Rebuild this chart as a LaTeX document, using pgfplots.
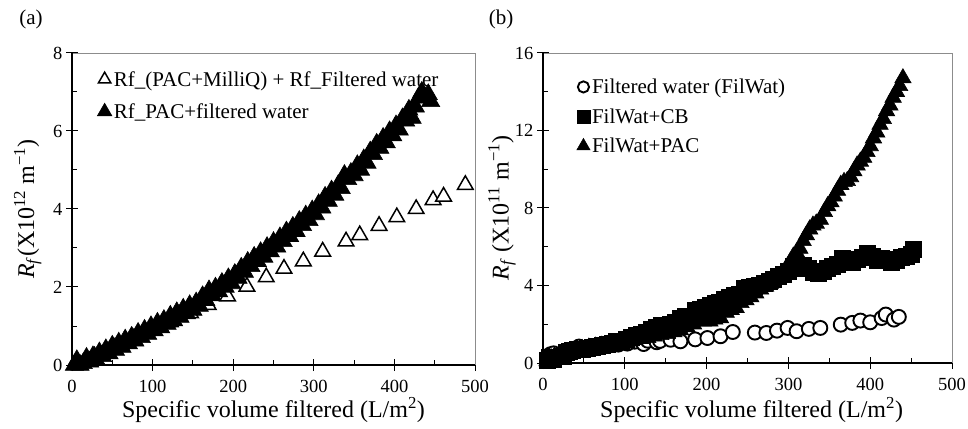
\documentclass[border=0pt]{standalone}
\usepackage{fontspec}
\setmainfont{Liberation Serif}
\usepackage{pgfplots}
\pgfplotsset{compat=1.18}
\pgfplotsset{
  panel/.style={
    scale only axis,
    anchor=south west,
    xmin=0,xmax=500,
    xtick={0,100,...,500},
    minor x tick num=1,
    minor y tick num=1,
    xtick pos=bottom, ytick pos=left,
    tick align=inside,
    major tick length=6pt, minor tick length=5pt,
    tick style={black, line width=1pt},
    extra x ticks={0,100,...,500},
    extra x tick labels={},
    extra y tick labels={},
    extra tick style={tick align=outside, major tick length=6pt, minor tick num=0},
    axis line style={black!45, line width=0.8pt},
    ticklabel style={font=\fontsize{18.5}{21}\selectfont},
    xticklabel style={yshift=-12pt},
    yticklabel style={xshift=-6pt},
    /pgf/number format/assume math mode=true,
    label style={font=\fontsize{24}{27}\selectfont},
    xlabel={Specific volume filtered (L/m\textsuperscript{2})},
    legend style={draw=none, fill=none, font=\fontsize{21}{24}\selectfont, anchor=north west},
    legend cell align=left,
    legend image code/.code={\draw[mark repeat=2,mark phase=2,#1,/tikz/every mark/.append style={scale=0.8}] plot coordinates {(0pt,0pt) (7pt,0pt) (14pt,0pt)};},
    clip=false,
  },
  otri/.style={only marks, mark=triangle*, mark size=9pt, mark options={fill=white, draw=black, line width=1.5pt}},
  ftri/.style={only marks, mark=triangle*, mark size=10.5pt, mark options={fill=black, draw=black, line width=0.6pt}},
  ocirc/.style={only marks, mark=*, mark size=7pt, mark options={fill=white, draw=black, line width=1.9pt}},
  fsq/.style={only marks, mark=square*, mark size=8pt, mark options={fill=black, draw=black}},
  ftrib/.style={only marks, mark=triangle*, mark size=9.5pt, mark options={fill=black, draw=black, line width=0.6pt}},
}
\begin{document}
\begin{tikzpicture}
\useasboundingbox (0,0) rectangle (968pt,428pt);
\node[font=\fontsize{21}{24}\selectfont] at (31pt,409pt) {(a)};
\node[font=\fontsize{21}{24}\selectfont] at (501pt,409pt) {(b)};
% ---------------- panel (a)
\begin{axis}[panel,
  at={(72pt,63pt)}, width=403pt, height=312pt,
  ymin=0, ymax=8, ytick={0,2,...,8},
  extra y ticks={0,2,...,8},
  ylabel={\textit{R}\textsubscript{\textit{f}}(X10\textsuperscript{12} m\textsuperscript{−1})},
  ylabel style={at={(axis description cs:-0.11,0.5)}, anchor=center},
  xlabel style={at={(axis description cs:0.5,-0.144)}, anchor=center},
  legend style={at={(0.055,0.955)}, row sep=12pt},
]
\draw[black, line width=1.5pt] (rel axis cs:0,1) -- (rel axis cs:0,0) -- (rel axis cs:1,0);
\addplot[otri] coordinates {
(8,0.05) (28,0.22) (52,0.45) (76,0.68) (100,0.9) (122,1.1) (147,1.33) (169,1.54)
(193,1.76) (217,2.01) (241,2.25) (263,2.47) (287,2.66) (311,2.91) (340,3.17)
(357,3.33) (381,3.57) (403,3.79) (427,4.0) (448,4.23) (461,4.32) (488,4.62)};
\addlegendentry{Rf\_(PAC+MilliQ) + Rf\_Filtered water}
\addplot[ftri] coordinates {
(3,0.0) (6,0.12) (10,0.0) (14,0.04) (18,0.18) (22,0.08) (26,0.22) (30,0.13)
(34,0.32) (38,0.22) (42,0.4) (46,0.29) (50,0.49) (54,0.38) (58,0.57) (62,0.46)
(66,0.65) (70,0.55) (74,0.72) (78,0.62) (82,0.82) (86,0.71) (90,0.9) (94,0.79)
(98,0.99) (102,0.88) (106,1.08) (110,0.96) (114,1.15) (118,1.05) (122,1.26)
(126,1.14) (130,1.35) (134,1.23) (138,1.44) (142,1.32) (146,1.53) (150,1.41)
(154,1.6) (158,1.51) (162,1.76) (166,1.66) (170,1.91) (174,1.78) (178,1.98)
(182,1.88) (186,2.1) (190,2.0) (194,2.22) (198,2.09) (202,2.33) (206,2.23)
(210,2.49) (214,2.38) (218,2.64) (222,2.53) (226,2.77) (230,2.66) (234,2.89)
(238,2.77) (242,3.02) (246,2.91) (250,3.15) (254,3.03) (258,3.27) (262,3.17)
(266,3.42) (270,3.3) (274,3.54) (278,3.43) (282,3.69) (286,3.58) (290,3.83)
(294,3.71) (298,3.96) (302,3.86) (306,4.12) (310,4.03) (314,4.31) (318,4.2)
(322,4.47) (326,4.36) (330,4.6) (334,4.53) (338,4.87) (342,4.76) (346,4.92)
(350,4.86) (354,5.12) (358,5.0) (362,5.27) (366,5.18) (370,5.47) (374,5.4)
(378,5.67) (382,5.56) (386,5.82) (390,5.7) (394,5.99) (398,5.88) (402,6.14)
(406,6.03) (410,6.32) (414,6.26) (418,6.54) (422,6.33) (426,6.62) (430,6.85)
(434,7.0) (438,6.86) (442,6.94) (445,6.76)};
\addlegendentry{Rf\_PAC+filtered water}
\end{axis}
% ---------------- panel (b)
\begin{axis}[panel,
  at={(543pt,65pt)}, width=409pt, height=310pt,
  ymin=0, ymax=16, ytick={0,4,...,16},
  extra y ticks={0,4,...,16},
  ylabel={\textit{R}\textsubscript{\textit{f}} (X10\textsuperscript{11} m\textsuperscript{−1})},
  ylabel style={at={(axis description cs:-0.1,0.5)}, anchor=center},
  xlabel style={at={(axis description cs:0.51,-0.152)}, anchor=center},
  legend style={at={(0.075,0.93)}, row sep=9.5pt},
]
\draw[black, line width=1.5pt] (rel axis cs:0,1) -- (rel axis cs:0,0) -- (rel axis cs:1,0);
\addplot[ocirc] coordinates {
(6,0.2) (9,0.45) (11,0.35) (13,0.5) (30,0.65) (37,0.7) (44,0.85) (50,0.72)
(60,0.8) (70,0.85) (80,0.9) (92,0.95) (103,1.0) (112,1.1) (123,0.98) (128,1.15)
(139,1.07) (143,1.14) (156,1.2) (168,1.12) (186,1.22) (201,1.29) (217,1.38)
(232,1.6) (259,1.57) (273,1.55) (286,1.67) (299,1.81) (310,1.64) (325,1.76)
(339,1.81) (364,1.98) (378,2.07) (388,2.19) (400,2.1) (414,2.32) (419,2.5)
(429,2.24) (435,2.38)};
\addlegendentry{Filtered water (FilWat)}
\addplot[fsq] coordinates {
(5,0.15) (8,0.3) (12,0.2) (25,0.35) (28,0.55) (32,0.6) (36,0.65) (42,0.7)
(48,0.72) (54,0.75) (60,0.8) (66,0.88) (72,0.92) (78,0.98) (84,1.02) (90,1.1)
(96,1.15) (102,1.25) (108,1.35) (114,1.42) (120,1.5) (126,1.6) (132,1.72)
(138,1.85) (144,1.95) (150,1.9) (156,2.0) (162,2.12) (168,2.3) (174,2.4)
(180,2.3) (186,2.7) (192,2.8) (198,2.9) (204,3.0) (210,3.08) (216,3.15)
(222,3.3) (228,3.4) (234,3.5) (240,3.55) (246,3.85) (252,3.9) (258,3.95)
(264,4.0) (270,4.1) (276,4.2) (282,4.3) (288,4.5) (294,4.6) (300,4.75)
(306,5.0) (312,4.9) (318,5.06) (324,4.9) (330,4.7) (336,4.65) (342,4.75)
(348,4.9) (354,5.0) (360,5.1) (366,5.4) (372,5.3) (378,5.2) (384,5.35)
(390,5.45) (396,5.65) (402,5.5) (408,5.3) (414,5.4) (420,5.35) (426,5.2)
(432,5.3) (438,5.45) (444,5.5) (450,5.6) (453,5.85)};
\addlegendentry{FilWat+CB}
\addplot[ftrib] coordinates {
(5,0.1) (10,0.25) (14,0.35) (30,0.5) (36,0.6) (42,0.65) (48,0.72) (56,0.8)
(64,0.85) (72,0.9) (80,0.95) (88,1.0) (96,1.05) (104,1.12) (112,1.2) (120,1.25)
(128,1.3) (136,1.38) (144,1.45) (152,1.5) (160,1.6) (168,1.7) (176,1.85)
(184,2.0) (190,2.2) (196,2.15) (204,2.15) (210,2.25) (217,2.32) (224,2.6)
(230,2.75) (236,2.85) (242,3.1) (248,3.25) (254,3.4) (260,3.6) (266,3.8)
(272,3.95) (278,4.1) (284,4.3) (290,4.5) (296,4.8) (302,5.2) (306,5.5)
(310,5.7) (314,5.9) (318,6.3) (322,6.6) (326,6.9) (330,7.1) (334,7.2)
(339,7.4) (344,7.8) (348,8.1) (352,8.3) (356,8.6) (360,8.9) (364,9.2)
(368,9.35) (372,9.4) (376,9.6) (380,9.9) (384,10.2) (388,10.4) (392,10.6)
(396,10.9) (400,11.2) (404,11.6) (408,11.9) (412,12.3) (416,12.6) (420,13.0)
(424,13.3) (428,13.7) (432,14.0) (436,14.3) (440,14.7)};
\addlegendentry{FilWat+PAC}
\end{axis}
\end{tikzpicture}
\end{document}
